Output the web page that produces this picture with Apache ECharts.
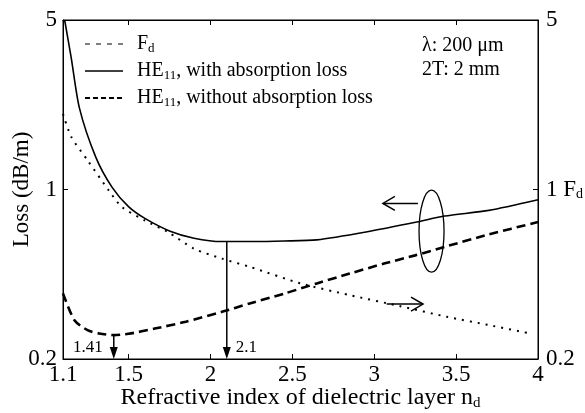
<!DOCTYPE html>
<html><head><meta charset="utf-8">
<script src="https://cdn.jsdelivr.net/npm/echarts@6/dist/echarts.min.js"></script>
<style>html,body{margin:0;padding:0;background:#fff}#c{width:585px;height:413px}</style>
</head><body><div id="c"></div>
<script>
// x ticks / labels
const xLabelValues = [1.1, 1.5, 2, 2.5, 3, 3.5, 4];
const xTickValues = [1.5, 2, 2.5, 3, 3.5];
const yLabelValues = [0.2, 1, 5];
const yTickValues = [1];

// HE11 with absorption loss (solid)
const withX = [1.11, 1.15, 1.2, 1.3, 1.4, 1.5, 1.6, 1.75, 1.9, 2.07, 2.25, 2.45, 2.65, 2.95, 3.26, 3.43, 3.7, 4.0];
const withY = [5.0, 3.5, 2.17, 1.36, 1.02, 0.85, 0.76, 0.675, 0.63, 0.61, 0.61, 0.613, 0.62, 0.668, 0.734, 0.777, 0.82, 0.907];

// HE11 without absorption loss (thick dashed)
const woX = [1.1, 1.17, 1.25, 1.32, 1.41, 1.5, 1.66, 1.85, 2.07, 2.24, 2.45, 2.65, 2.85, 3.06, 3.25, 3.43, 3.7, 4.0];
const woY = [0.373, 0.289, 0.263, 0.255, 0.251, 0.254, 0.267, 0.285, 0.313, 0.339, 0.372, 0.41, 0.45, 0.495, 0.535, 0.58, 0.653, 0.734];

// F_d (dotted, right axis)
const fdX = [1.1, 1.15, 1.25, 1.38, 1.46, 1.6, 1.74, 1.9, 2.07, 2.24, 2.55, 2.85, 3.16, 3.44, 3.7, 3.95];
const fdY = [2.05, 1.65, 1.32, 0.99, 0.846, 0.745, 0.668, 0.57, 0.519, 0.48, 0.41, 0.367, 0.33, 0.299, 0.276, 0.255];

// annotations (data coordinates)
const minMarkers = [{x: 1.41, from: 0.251, label: '1.41', side: 'left'}, {x: 2.1, from: 0.61, label: '2.1', side: 'right'}];
const ellipseCenter = [3.35, 0.673];
const leftArrow = {x1: 3.267, x2: 3.053, y: 0.876};
const rightArrow = {x1: 3.076, x2: 3.298, y: 0.337};

const FONT = '"Liberation Serif", "Times New Roman", serif';
const pair = (xs, ys) => xs.map((x, i) => [x, ys[i]]);
const sub = (size, pad) => ({sub: {fontSize: size, fontFamily: FONT, color: '#000', verticalAlign: 'bottom', padding: [pad, 0, 0, 0]}});

const chart = echarts.init(document.getElementById('c'), null, {renderer: 'canvas'});

function renderAnno(params, api) {
  const ch = [];
  const blk = '#000';
  minMarkers.forEach(m => {
    const p1 = api.coord([m.x, m.from]);
    const p2 = api.coord([m.x, 0.2]);
    ch.push({type: 'line', shape: {x1: p1[0], y1: p1[1], x2: p2[0], y2: p2[1] - 8}, style: {stroke: blk, lineWidth: 1.5}});
    ch.push({type: 'polygon', shape: {points: [[p2[0] - 4, p2[1] - 12], [p2[0] + 4, p2[1] - 12], [p2[0], p2[1]]]}, style: {fill: blk}});
    ch.push({type: 'text', style: {
      text: m.label, x: m.side === 'left' ? p2[0] - 11 : p2[0] + 9, y: p2[1] - 11,
      font: '17px ' + FONT, fill: blk, align: m.side === 'left' ? 'right' : 'left', verticalAlign: 'middle'}});
  });
  const c = api.coord(ellipseCenter);
  ch.push({type: 'ellipse', shape: {cx: c[0], cy: c[1], rx: 12.5, ry: 41}, style: {fill: 'none', stroke: blk, lineWidth: 1.3}});
  [leftArrow, rightArrow].forEach(a => {
    const p1 = api.coord([a.x1, a.y]);
    const p2 = api.coord([a.x2, a.y]);
    const dir = p2[0] > p1[0] ? 1 : -1;
    ch.push({type: 'line', shape: {x1: p1[0], y1: p1[1], x2: p2[0], y2: p2[1]}, style: {stroke: blk, lineWidth: 1.5}});
    ch.push({type: 'polyline', shape: {points: [[p2[0] - dir * 12, p2[1] - 7], [p2[0], p2[1]], [p2[0] - dir * 12, p2[1] + 7]]}, style: {stroke: blk, fill: 'none', lineWidth: 1.5}});
  });
  return {type: 'group', children: ch};
}

const option = {
  backgroundColor: '#fff',
  animation: false,
  grid: {left: 63, right: 47, top: 20, bottom: 54, show: true, borderColor: '#000', borderWidth: 1,
    containLabel: false, outerBoundsMode: 'none'},
  legend: {
    orient: 'vertical', left: 79, top: 29, itemWidth: 38, itemHeight: 10, itemGap: 6,
    data: [
      {name: 'Fd', lineStyle: {type: [5, 6], width: 1.2, color: '#000'}},
      {name: 'HE11w', lineStyle: {type: 'solid', width: 1.5, color: '#000'}},
      {name: 'HE11wo', lineStyle: {type: [5, 3], width: 2, color: '#000'}}
    ],
    itemStyle: {opacity: 0},
    formatter: function (n) {
      if (n === 'Fd') return 'F{sub|d}';
      if (n === 'HE11w') return 'HE{sub|11}, with absorption loss';
      return 'HE{sub|11}, without absorption loss';
    },
    textStyle: {fontFamily: FONT, fontSize: 20, color: '#000', padding: [0, 0, 0, 9], rich: sub(13, 9)}
  },
  xAxis: [{
    type: 'value', min: 1.1, max: 4, position: 'bottom',
    axisLine: {show: true, onZero: false, lineStyle: {color: '#000', width: 1}},
    axisTick: {show: true, inside: true, length: 5, customValues: xTickValues, lineStyle: {color: '#000'}},
    axisLabel: {customValues: xLabelValues, fontFamily: FONT, fontSize: 23, color: '#000', margin: 4,
      formatter: v => String(v)},
    splitLine: {show: false},
    name: 'Refractive index of dielectric layer n{sub|d}', nameLocation: 'middle', nameGap: 26, nameMoveOverlap: false,
    nameTextStyle: {fontFamily: FONT, fontSize: 24, color: '#000', rich: sub(15, 11)}
  }, {
    type: 'value', min: 1.1, max: 4, position: 'top',
    axisLine: {show: true, onZero: false, lineStyle: {color: '#000', width: 1}},
    axisTick: {show: true, inside: true, length: 5, customValues: xTickValues, lineStyle: {color: '#000'}},
    axisLabel: {show: false}, splitLine: {show: false}
  }],
  yAxis: [{
    type: 'log', logBase: 5, min: 0.2, max: 5, position: 'left',
    axisLine: {show: true, onZero: false, lineStyle: {color: '#000', width: 1}},
    axisTick: {show: true, inside: true, length: 5, customValues: yTickValues, lineStyle: {color: '#000'}},
    axisLabel: {customValues: yLabelValues, fontFamily: FONT, fontSize: 23, color: '#000', margin: 6,
      formatter: v => String(+v.toPrecision(3))},
    splitLine: {show: false},
    name: 'Loss (dB/m)', nameLocation: 'middle', nameGap: 30, nameRotate: 90, nameMoveOverlap: false,
    nameTextStyle: {fontFamily: FONT, fontSize: 23, color: '#000'}
  }, {
    type: 'log', logBase: 5, min: 0.2, max: 5, position: 'right',
    axisLine: {show: true, onZero: false, lineStyle: {color: '#000', width: 1}},
    axisTick: {show: true, inside: true, length: 5, customValues: yTickValues, lineStyle: {color: '#000'}},
    axisLabel: {customValues: yLabelValues, fontFamily: FONT, fontSize: 23, color: '#000', margin: 8,
      formatter: v => { const s = String(+v.toPrecision(3)); return s === '1' ? '1 F{sub|d}' : s; },
      rich: sub(14, 10)},
    splitLine: {show: false}
  }],
  graphic: [
    {type: 'text', left: 422, top: 36, style: {text: 'λ: 200 μm', font: '20px ' + FONT, fill: '#000'}},
    {type: 'text', left: 422, top: 60, style: {text: '2T: 2 mm', font: '20px ' + FONT, fill: '#000'}}
  ],
  series: [
    {name: 'Fd', type: 'line', xAxisIndex: 0, yAxisIndex: 1, data: pair(fdX, fdY), smooth: 0.25, symbol: 'none',
      itemStyle: {color: '#000'}, lineStyle: {color: '#000', width: 2, type: [2, 6]}},
    {name: 'HE11w', type: 'line', xAxisIndex: 0, yAxisIndex: 0, data: pair(withX, withY), smooth: 0.25, symbol: 'none',
      itemStyle: {color: '#000'}, lineStyle: {color: '#000', width: 1.6, type: 'solid'}},
    {name: 'HE11wo', type: 'line', xAxisIndex: 0, yAxisIndex: 0, data: pair(woX, woY), smooth: 0.25, symbol: 'none',
      itemStyle: {color: '#000'}, lineStyle: {color: '#000', width: 2.6, type: [9, 5]}},
    {name: 'anno', type: 'custom', xAxisIndex: 0, yAxisIndex: 0, data: [[2, 1]], renderItem: renderAnno, silent: true, z: 5}
  ]
};
chart.setOption(option);
</script></body></html>
